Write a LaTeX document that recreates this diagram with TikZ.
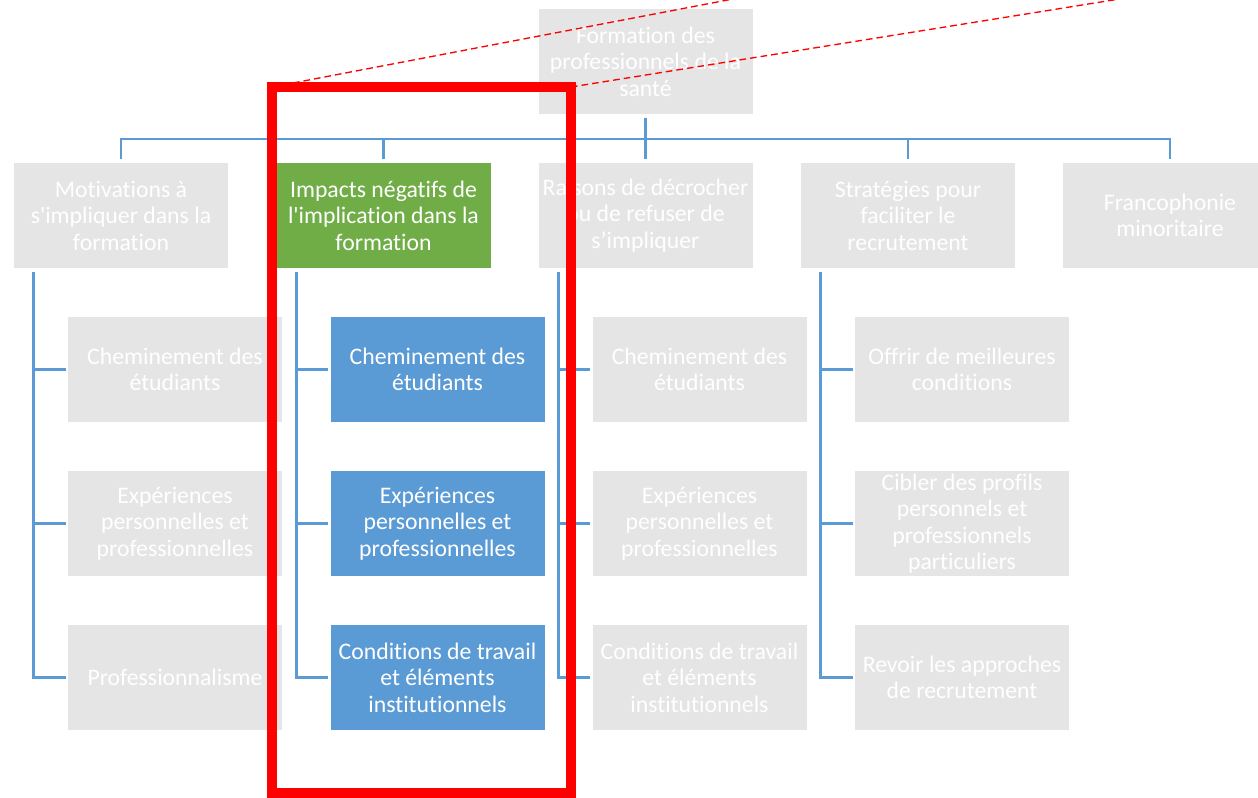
\documentclass[tikz,border=0pt]{standalone}
\usepackage{fontspec}
\setmainfont{Carlito}[Ligatures={NoCommon,NoRare,NoContextual}, RawFeature=-calt, RawFeature=-clig]
\definecolor{boxgrey}{HTML}{E5E5E5}
\definecolor{boxgreen}{HTML}{70AD47}
\definecolor{boxblue}{HTML}{5B9BD5}
\definecolor{linkblue}{HTML}{5B9BD5}
\tikzset{
  card/.style={rectangle, inner sep=0pt, minimum width=160.5pt, minimum height=78.75pt,
    align=center, text=white, font=\fontsize{17.8pt}{19.9pt}\selectfont},
  greycard/.style={card, fill=boxgrey},
  greencard/.style={card, fill=boxgreen},
  bluecard/.style={card, fill=boxblue},
  conn/.style={draw=linkblue, line width=2.2pt},
  focusframe/.style={draw=red, line width=7.5pt},
  zoomline/.style={draw=red, line width=1pt, dash pattern=on 5pt off 3pt}
}
\begin{document}
\begin{tikzpicture}[x=0.75pt,y=-0.75pt]
\path[use as bounding box] (0,0) rectangle (1258,797);
\clip (0,0) rectangle (1258,797);
\fill[white] (0,0) rectangle (1258,797);

% top
\node[greycard] (top) at (645.5,61.5) {Formation des\\professionnels de la\\santé};

% level 1
\node[greycard]  (m1) at (121,215.5)    {Motivations à\\s\textquotesingle impliquer dans la\\formation};
\node[greencard] (m2) at (383.5,215.5)  {Impacts négatifs de\\l\textquotesingle implication dans la\\formation};
\node[greycard]  (m3) at (645.5,215.5)  {Raisons de décrocher\\ou de refuser de\\s’impliquer};
\node[greycard]  (m4) at (908,215.5)    {Stratégies pour\\faciliter le\\recrutement};
\node[greycard]  (m5) at (1170,215.5)   {Francophonie\\minoritaire};

% children
\node[greycard] (c11) at (175,369.5) {Cheminement des\\étudiants};
\node[greycard] (c12) at (175,523.5) {Expériences\\personnelles et\\professionnelles};
\node[greycard] (c13) at (175,677.5) {Professionnalisme};

\node[bluecard] (c21) at (437.5,369.5) {Cheminement des\\étudiants};
\node[bluecard] (c22) at (437.5,523.5) {Expériences\\personnelles et\\professionnelles};
\node[bluecard] (c23) at (437.5,677.5) {Conditions de travail\\et éléments\\institutionnels};

\node[greycard] (c31) at (699.5,369.5) {Cheminement des\\étudiants};
\node[greycard] (c32) at (699.5,523.5) {Expériences\\personnelles et\\professionnelles};
\node[greycard] (c33) at (699.5,677.5) {Conditions de travail\\et éléments\\institutionnels};

\node[greycard] (c41) at (962,369.5) {Offrir de meilleures\\conditions};
\node[greycard] (c42) at (962,523.5) {Cibler des profils\\personnels et\\professionnels\\particuliers};
\node[greycard] (c43) at (962,677.5) {Revoir les approches\\de recrutement};

% connectors top level
\coordinate (busL) at (121,139);
\coordinate (busR) at (1170,139);
\draw[conn] ([yshift=-2.5pt]top.south) -- (top.south |- busL);
\draw[conn] ([yshift=2.5pt]m1.north) -- (busL) -- (busR) -- ([yshift=2.5pt]m5.north);
\draw[conn] ([yshift=2.5pt]m2.north) -- (m2.north |- busL);
\draw[conn] ([yshift=2.5pt]m3.north) -- (m3.north |- busL);
\draw[conn] ([yshift=2.5pt]m4.north) -- (m4.north |- busL);

% children connectors
\foreach \p in {1,2,3,4}{
  \draw[conn] ([xshift=15pt,yshift=-3pt]m\p.south west) |- ([xshift=-1.5pt]c\p3.west);
  \draw[conn] ([xshift=15pt]m\p.south west |- c\p1.west) -- ([xshift=-1.5pt]c\p1.west);
  \draw[conn] ([xshift=15pt]m\p.south west |- c\p2.west) -- ([xshift=-1.5pt]c\p2.west);
}

% zoom lines and focus frame
\coordinate (fTL) at (272,87);
\coordinate (fTR) at (571,87);
\coordinate (fBR) at (571,793);
\coordinate (zA) at (1000,-52);
\coordinate (zB) at (1400,-46);
\draw[zoomline] (fTL) -- (zA);
\draw[zoomline] (fTR) -- (zB);
\draw[focusframe] (fTL) rectangle (fBR);
\end{tikzpicture}
\end{document}
